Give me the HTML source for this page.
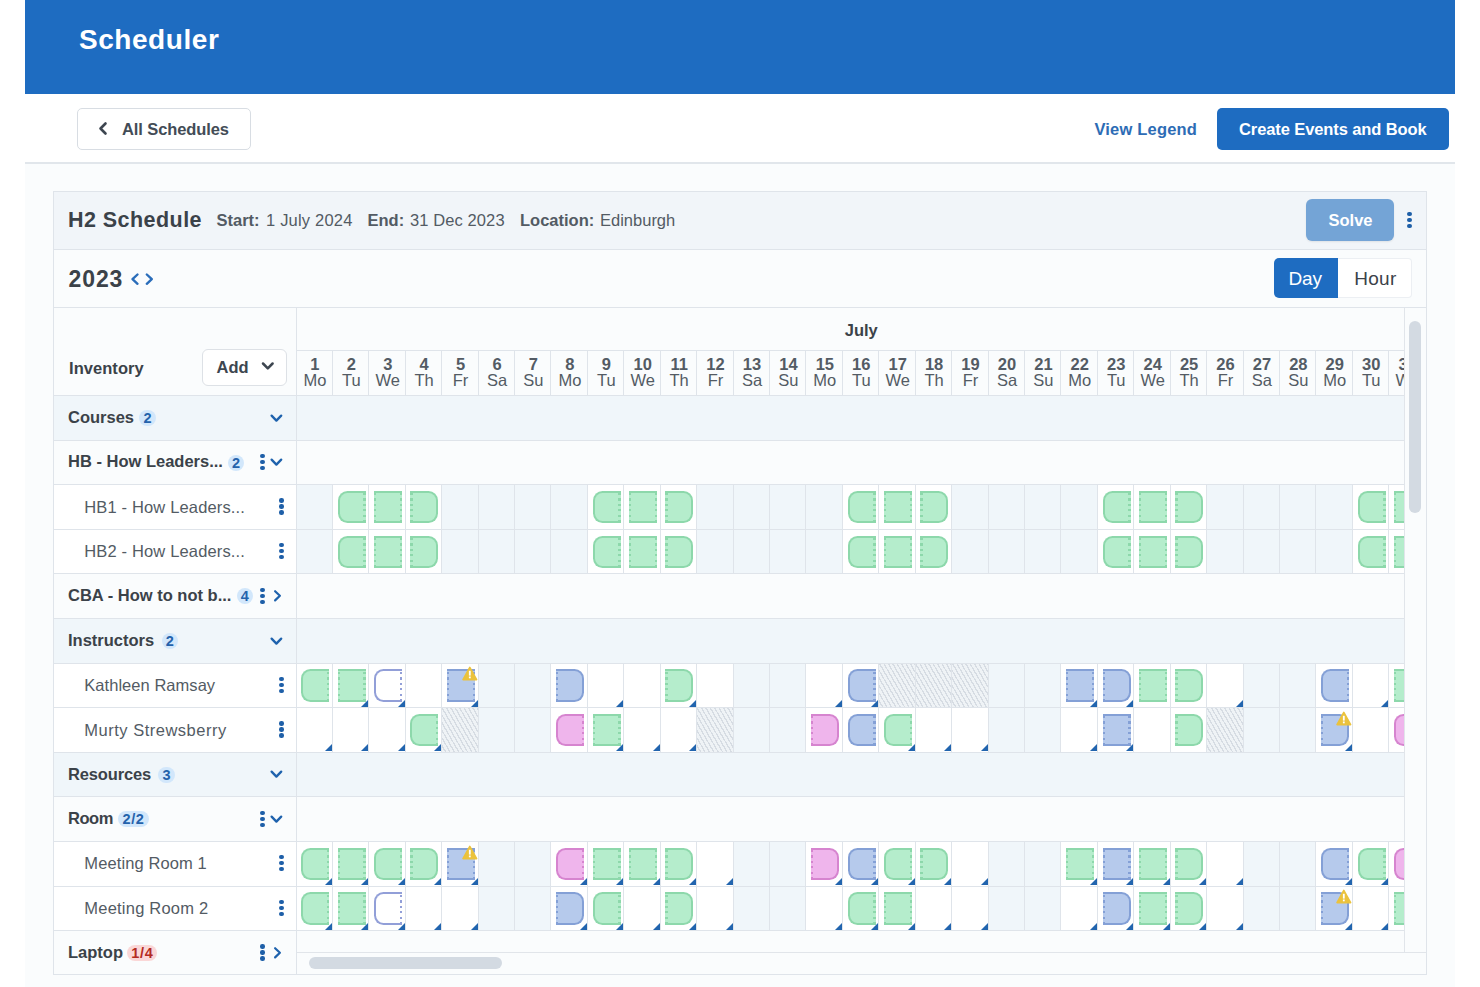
<!DOCTYPE html><html><head><meta charset="utf-8"><title>Scheduler</title><style>
*{box-sizing:border-box;margin:0;padding:0}
html,body{width:1480px;height:987px;overflow:hidden;background:#fff;font-family:"Liberation Sans",sans-serif}
.a{position:absolute}
.t{position:absolute;line-height:1;white-space:nowrap}
svg{position:absolute;overflow:visible}
.ev{position:absolute;width:28px;height:32.4px;border:2px solid var(--b);background:var(--f)}
.ev.s{border-right:0;border-radius:9.5px 0 0 9.5px}
.ev.m{border-left:0;border-right:0}
.ev.e{border-left:0;border-radius:0 9.5px 9.5px 0}
.ev.s:after,.ev.m:after{content:"";position:absolute;right:0;top:0.4px;bottom:0;width:2.2px;background:repeating-linear-gradient(to bottom,var(--b) 0 2.2px,transparent 2.2px 5.4px)}
.ev.e:before,.ev.m:before{content:"";position:absolute;left:0;top:0.4px;bottom:0;width:2.2px;background:repeating-linear-gradient(to bottom,var(--b) 0 2.2px,transparent 2.2px 5.4px)}
.g{--b:#8dd8ab;--f:#b5edcc}
.bl{--b:#84a0d6;--f:#b6caec}
.pk{--b:#d684cf;--f:#efb5ec}
.ol{--b:#929fd8;--f:#ffffff}
.cr{position:absolute;width:0;height:0;border-style:solid;border-width:0 0 7.5px 7.5px;border-color:transparent transparent #2164ae transparent}
.hat{background:repeating-linear-gradient(60deg,#eff3f6 0 2.5px,#d6dce3 2.5px 3.8px)}
</style></head><body>
<div class="a" style="left:25.00px;top:0.00px;width:1430.00px;height:94.00px;background:#1e6cc1"></div>
<div class="t" style="left:79.00px;top:25.80px;font-size:28px;font-weight:700;color:#fff;letter-spacing:0.55px">Scheduler</div>
<div class="a" style="left:25.00px;top:94.00px;width:1430.00px;height:68.50px;background:#fff"></div>
<div class="a" style="left:25.00px;top:162.00px;width:1430.00px;height:1.50px;background:#e1e6eb"></div>
<div class="a" style="left:25.00px;top:163.50px;width:1430.00px;height:823.50px;background:#fafcfd"></div>
<div class="a" style="left:77.00px;top:108.00px;width:174.00px;height:42.00px;background:#fff;border:1px solid #d8dde3;border-radius:5px"></div>
<svg style="left:98px;top:122px" width="10" height="13"><path d="M7.5 1.5 L2.5 6.5 L7.5 11.5" fill="none" stroke="#3d4650" stroke-width="2.6" stroke-linecap="round" stroke-linejoin="round"/></svg>
<div class="t" style="left:122.00px;top:121.03px;font-size:16.5px;font-weight:700;color:#434c56;letter-spacing:-0.1px">All Schedules</div>
<div class="t" style="left:1094.40px;top:121.03px;font-size:16.5px;font-weight:700;color:#2d6cb5;letter-spacing:0.2px">View Legend</div>
<div class="a" style="left:1217.00px;top:108.00px;width:232.00px;height:42.00px;background:#1e6cc1;border-radius:5px"></div>
<div class="t" style="left:1239.00px;top:121.03px;font-size:16.5px;font-weight:700;color:#fff;letter-spacing:-0.1px">Create Events and Book</div>
<div class="a" style="left:53.00px;top:191.00px;width:1374.00px;height:784.00px;background:#fafcfd;border:1px solid #dfe4ea"></div>
<div class="a" style="left:54.00px;top:192.00px;width:1372.00px;height:57.00px;background:#f1f5f9"></div>
<div class="a" style="left:53.00px;top:248.50px;width:1374.00px;height:1.20px;background:#dfe4ea"></div>
<div class="t" style="left:68.00px;top:209.68px;font-size:22px;font-weight:700;color:#3b4249;letter-spacing:0.45px;font-size:21.5px">H2 Schedule</div>
<div class="t" style="left:216.50px;top:212.03px;font-size:16.5px;font-weight:700;color:#535b64;">Start:</div>
<div class="t" style="left:266.00px;top:212.03px;font-size:16.5px;font-weight:400;color:#535b64;letter-spacing:0.2px">1 July 2024</div>
<div class="t" style="left:367.50px;top:212.03px;font-size:16.5px;font-weight:700;color:#535b64;">End:</div>
<div class="t" style="left:410.00px;top:212.03px;font-size:16.5px;font-weight:400;color:#535b64;letter-spacing:0.1px">31 Dec 2023</div>
<div class="t" style="left:520.00px;top:212.03px;font-size:16.5px;font-weight:700;color:#535b64;">Location:</div>
<div class="t" style="left:600.00px;top:212.03px;font-size:16.5px;font-weight:400;color:#535b64;">Edinburgh</div>
<div class="a" style="left:1306.00px;top:199.00px;width:87.50px;height:41.50px;background:#74a4d6;border-radius:6px;box-shadow:0 1px 2px rgba(0,0,0,0.08)"></div>
<div class="t" style="left:1328.50px;top:212.03px;font-size:16.5px;font-weight:700;color:#fff;">Solve</div>
<div class="a" style="left:1407.20px;top:211.80px;width:4.60px;height:4.60px;background:#1e5fa8;border-radius:50%"></div>
<div class="a" style="left:1407.20px;top:217.80px;width:4.60px;height:4.60px;background:#1e5fa8;border-radius:50%"></div>
<div class="a" style="left:1407.20px;top:223.80px;width:4.60px;height:4.60px;background:#1e5fa8;border-radius:50%"></div>
<div class="a" style="left:53.00px;top:307.00px;width:1374.00px;height:1.20px;background:#dfe4ea"></div>
<div class="t" style="left:68.50px;top:267.53px;font-size:23px;font-weight:700;color:#3b4249;letter-spacing:0.9px">2023</div>
<svg style="left:130px;top:273px" width="10" height="13"><path d="M7.5 1.5 L2.5 6.2 L7.5 10.8" fill="none" stroke="#2a6dba" stroke-width="2.4" stroke-linecap="round" stroke-linejoin="round"/></svg>
<svg style="left:145px;top:273px" width="10" height="13"><path d="M1.8 1.5 L6.8 6.2 L1.8 10.8" fill="none" stroke="#2a6dba" stroke-width="2.4" stroke-linecap="round" stroke-linejoin="round"/></svg>
<div class="a" style="left:1274.00px;top:258.40px;width:64.00px;height:40.00px;background:#1e6cc1;border-radius:5px 0 0 5px"></div>
<div class="a" style="left:1338.00px;top:258.40px;width:74.00px;height:40.00px;background:#fff;border:1px solid #eceff3;border-left:0;border-radius:0 4px 4px 0"></div>
<div class="t" style="left:1288.50px;top:269.22px;font-size:19px;font-weight:400;color:#fff;letter-spacing:-0.2px">Day</div>
<div class="t" style="left:1354.20px;top:269.22px;font-size:19px;font-weight:400;color:#3b4249;letter-spacing:0.3px">Hour</div>
<div class="t" style="left:69.00px;top:360.03px;font-size:16.5px;font-weight:700;color:#3b4249;letter-spacing:0.05px">Inventory</div>
<div class="a" style="left:202.40px;top:348.90px;width:85.00px;height:37.00px;background:#fff;border:1px solid #dde1e6;border-radius:6px"></div>
<div class="t" style="left:216.60px;top:359.33px;font-size:16.5px;font-weight:700;color:#3d4650;">Add</div>
<svg style="left:261px;top:361px" width="14" height="11"><path d="M2 2.5 L6.8 7.3 L11.6 2.5" fill="none" stroke="#3d4650" stroke-width="2.5" stroke-linecap="round" stroke-linejoin="round"/></svg>
<div class="a" style="left:54.00px;top:395.00px;width:242.00px;height:44.60px;background:#f0f6fa"></div>
<div class="a" style="left:54.00px;top:395.00px;width:242.00px;height:1.00px;background:#dfe4ea"></div>
<div class="t" style="left:68.00px;top:408.83px;font-size:16.5px;font-weight:700;color:#3b4249;letter-spacing:0px">Courses</div>
<div class="a" style="left:139.4px;top:410.0px;width:16.3px;height:16px;border-radius:8px;background:#d2e7fb;color:#2462ab;font-size:14.5px;font-weight:700;line-height:16.6px;text-align:center;letter-spacing:0px;text-indent:0px">2</div>
<svg style="left:270px;top:413.5px" width="14" height="10"><path d="M1.6 1.6 L6.4 6.6 L11.2 1.6" fill="none" stroke="#1e62ad" stroke-width="2.3" stroke-linecap="round" stroke-linejoin="round"/></svg>
<div class="a" style="left:54.00px;top:439.60px;width:242.00px;height:44.60px;background:#fafcfd"></div>
<div class="a" style="left:54.00px;top:439.60px;width:242.00px;height:1.00px;background:#dfe4ea"></div>
<div class="t" style="left:68.00px;top:453.43px;font-size:16.5px;font-weight:700;color:#3b4249;letter-spacing:0px">HB - How Leaders...</div>
<div class="a" style="left:228px;top:454.6px;width:16.3px;height:16px;border-radius:8px;background:#d2e7fb;color:#2462ab;font-size:14.5px;font-weight:700;line-height:16.6px;text-align:center;letter-spacing:0px;text-indent:0px">2</div>
<div class="a" style="left:260.30px;top:453.70px;width:4.40px;height:4.40px;background:#1e5fa8;border-radius:50%"></div>
<div class="a" style="left:260.30px;top:459.70px;width:4.40px;height:4.40px;background:#1e5fa8;border-radius:50%"></div>
<div class="a" style="left:260.30px;top:465.70px;width:4.40px;height:4.40px;background:#1e5fa8;border-radius:50%"></div>
<svg style="left:270px;top:458.1px" width="14" height="10"><path d="M1.6 1.6 L6.4 6.6 L11.2 1.6" fill="none" stroke="#1e62ad" stroke-width="2.3" stroke-linecap="round" stroke-linejoin="round"/></svg>
<div class="a" style="left:54.00px;top:484.20px;width:242.00px;height:44.60px;background:#fff"></div>
<div class="a" style="left:54.00px;top:484.20px;width:242.00px;height:1.00px;background:#dfe4ea"></div>
<div class="t" style="left:84.30px;top:498.53px;font-size:16.5px;font-weight:400;color:#535b64;letter-spacing:0.15px">HB1 - How Leaders...</div>
<div class="a" style="left:279.20px;top:498.30px;width:4.40px;height:4.40px;background:#1e5fa8;border-radius:50%"></div>
<div class="a" style="left:279.20px;top:504.30px;width:4.40px;height:4.40px;background:#1e5fa8;border-radius:50%"></div>
<div class="a" style="left:279.20px;top:510.30px;width:4.40px;height:4.40px;background:#1e5fa8;border-radius:50%"></div>
<div class="a" style="left:54.00px;top:528.80px;width:242.00px;height:44.60px;background:#fff"></div>
<div class="a" style="left:54.00px;top:528.80px;width:242.00px;height:1.00px;background:#dfe4ea"></div>
<div class="t" style="left:84.30px;top:543.13px;font-size:16.5px;font-weight:400;color:#535b64;letter-spacing:0.15px">HB2 - How Leaders...</div>
<div class="a" style="left:279.20px;top:542.90px;width:4.40px;height:4.40px;background:#1e5fa8;border-radius:50%"></div>
<div class="a" style="left:279.20px;top:548.90px;width:4.40px;height:4.40px;background:#1e5fa8;border-radius:50%"></div>
<div class="a" style="left:279.20px;top:554.90px;width:4.40px;height:4.40px;background:#1e5fa8;border-radius:50%"></div>
<div class="a" style="left:54.00px;top:573.40px;width:242.00px;height:44.60px;background:#fafcfd"></div>
<div class="a" style="left:54.00px;top:573.40px;width:242.00px;height:1.00px;background:#dfe4ea"></div>
<div class="t" style="left:68.00px;top:587.23px;font-size:16.5px;font-weight:700;color:#3b4249;letter-spacing:0px">CBA - How to not b...</div>
<div class="a" style="left:236.6px;top:588.4px;width:16.3px;height:16px;border-radius:8px;background:#d2e7fb;color:#2462ab;font-size:14.5px;font-weight:700;line-height:16.6px;text-align:center;letter-spacing:0px;text-indent:0px">4</div>
<div class="a" style="left:260.30px;top:587.50px;width:4.40px;height:4.40px;background:#1e5fa8;border-radius:50%"></div>
<div class="a" style="left:260.30px;top:593.50px;width:4.40px;height:4.40px;background:#1e5fa8;border-radius:50%"></div>
<div class="a" style="left:260.30px;top:599.50px;width:4.40px;height:4.40px;background:#1e5fa8;border-radius:50%"></div>
<svg style="left:273px;top:588.9px" width="10" height="14"><path d="M2.1 2.2 L6.9 6.8 L2.1 11.4" fill="none" stroke="#1e62ad" stroke-width="2.2" stroke-linecap="round" stroke-linejoin="round"/></svg>
<div class="a" style="left:54.00px;top:618.00px;width:242.00px;height:44.60px;background:#f0f6fa"></div>
<div class="a" style="left:54.00px;top:618.00px;width:242.00px;height:1.00px;background:#dfe4ea"></div>
<div class="t" style="left:68.00px;top:631.83px;font-size:16.5px;font-weight:700;color:#3b4249;letter-spacing:0px">Instructors</div>
<div class="a" style="left:161.7px;top:633.0px;width:16.3px;height:16px;border-radius:8px;background:#d2e7fb;color:#2462ab;font-size:14.5px;font-weight:700;line-height:16.6px;text-align:center;letter-spacing:0px;text-indent:0px">2</div>
<svg style="left:270px;top:636.5px" width="14" height="10"><path d="M1.6 1.6 L6.4 6.6 L11.2 1.6" fill="none" stroke="#1e62ad" stroke-width="2.3" stroke-linecap="round" stroke-linejoin="round"/></svg>
<div class="a" style="left:54.00px;top:662.60px;width:242.00px;height:44.60px;background:#fff"></div>
<div class="a" style="left:54.00px;top:662.60px;width:242.00px;height:1.00px;background:#dfe4ea"></div>
<div class="t" style="left:84.30px;top:676.93px;font-size:16.5px;font-weight:400;color:#535b64;letter-spacing:0.04px">Kathleen Ramsay</div>
<div class="a" style="left:279.20px;top:676.70px;width:4.40px;height:4.40px;background:#1e5fa8;border-radius:50%"></div>
<div class="a" style="left:279.20px;top:682.70px;width:4.40px;height:4.40px;background:#1e5fa8;border-radius:50%"></div>
<div class="a" style="left:279.20px;top:688.70px;width:4.40px;height:4.40px;background:#1e5fa8;border-radius:50%"></div>
<div class="a" style="left:54.00px;top:707.20px;width:242.00px;height:44.60px;background:#fff"></div>
<div class="a" style="left:54.00px;top:707.20px;width:242.00px;height:1.00px;background:#dfe4ea"></div>
<div class="t" style="left:84.30px;top:721.53px;font-size:16.5px;font-weight:400;color:#535b64;letter-spacing:0.5px">Murty Strewsberry</div>
<div class="a" style="left:279.20px;top:721.30px;width:4.40px;height:4.40px;background:#1e5fa8;border-radius:50%"></div>
<div class="a" style="left:279.20px;top:727.30px;width:4.40px;height:4.40px;background:#1e5fa8;border-radius:50%"></div>
<div class="a" style="left:279.20px;top:733.30px;width:4.40px;height:4.40px;background:#1e5fa8;border-radius:50%"></div>
<div class="a" style="left:54.00px;top:751.80px;width:242.00px;height:44.60px;background:#f0f6fa"></div>
<div class="a" style="left:54.00px;top:751.80px;width:242.00px;height:1.00px;background:#dfe4ea"></div>
<div class="t" style="left:68.00px;top:765.63px;font-size:16.5px;font-weight:700;color:#3b4249;letter-spacing:-0.15px">Resources</div>
<div class="a" style="left:158.3px;top:766.8px;width:16.3px;height:16px;border-radius:8px;background:#d2e7fb;color:#2462ab;font-size:14.5px;font-weight:700;line-height:16.6px;text-align:center;letter-spacing:0px;text-indent:0px">3</div>
<svg style="left:270px;top:770.3px" width="14" height="10"><path d="M1.6 1.6 L6.4 6.6 L11.2 1.6" fill="none" stroke="#1e62ad" stroke-width="2.3" stroke-linecap="round" stroke-linejoin="round"/></svg>
<div class="a" style="left:54.00px;top:796.40px;width:242.00px;height:44.60px;background:#fafcfd"></div>
<div class="a" style="left:54.00px;top:796.40px;width:242.00px;height:1.00px;background:#dfe4ea"></div>
<div class="t" style="left:68.00px;top:810.23px;font-size:16.5px;font-weight:700;color:#3b4249;letter-spacing:-0.45px">Room</div>
<div class="a" style="left:118px;top:811.4000000000001px;width:30.5px;height:16px;border-radius:8px;background:#d2e7fb;color:#2462ab;font-size:14.5px;font-weight:700;line-height:16.6px;text-align:center;letter-spacing:0.6px;text-indent:0.6px">2/2</div>
<div class="a" style="left:260.30px;top:810.50px;width:4.40px;height:4.40px;background:#1e5fa8;border-radius:50%"></div>
<div class="a" style="left:260.30px;top:816.50px;width:4.40px;height:4.40px;background:#1e5fa8;border-radius:50%"></div>
<div class="a" style="left:260.30px;top:822.50px;width:4.40px;height:4.40px;background:#1e5fa8;border-radius:50%"></div>
<svg style="left:270px;top:814.9000000000001px" width="14" height="10"><path d="M1.6 1.6 L6.4 6.6 L11.2 1.6" fill="none" stroke="#1e62ad" stroke-width="2.3" stroke-linecap="round" stroke-linejoin="round"/></svg>
<div class="a" style="left:54.00px;top:841.00px;width:242.00px;height:44.60px;background:#fff"></div>
<div class="a" style="left:54.00px;top:841.00px;width:242.00px;height:1.00px;background:#dfe4ea"></div>
<div class="t" style="left:84.30px;top:855.33px;font-size:16.5px;font-weight:400;color:#535b64;letter-spacing:0.11px">Meeting Room 1</div>
<div class="a" style="left:279.20px;top:855.10px;width:4.40px;height:4.40px;background:#1e5fa8;border-radius:50%"></div>
<div class="a" style="left:279.20px;top:861.10px;width:4.40px;height:4.40px;background:#1e5fa8;border-radius:50%"></div>
<div class="a" style="left:279.20px;top:867.10px;width:4.40px;height:4.40px;background:#1e5fa8;border-radius:50%"></div>
<div class="a" style="left:54.00px;top:885.60px;width:242.00px;height:44.60px;background:#fff"></div>
<div class="a" style="left:54.00px;top:885.60px;width:242.00px;height:1.00px;background:#dfe4ea"></div>
<div class="t" style="left:84.30px;top:899.93px;font-size:16.5px;font-weight:400;color:#535b64;letter-spacing:0.22px">Meeting Room 2</div>
<div class="a" style="left:279.20px;top:899.70px;width:4.40px;height:4.40px;background:#1e5fa8;border-radius:50%"></div>
<div class="a" style="left:279.20px;top:905.70px;width:4.40px;height:4.40px;background:#1e5fa8;border-radius:50%"></div>
<div class="a" style="left:279.20px;top:911.70px;width:4.40px;height:4.40px;background:#1e5fa8;border-radius:50%"></div>
<div class="a" style="left:54.00px;top:930.20px;width:242.00px;height:44.60px;background:#fafcfd"></div>
<div class="a" style="left:54.00px;top:930.20px;width:242.00px;height:1.00px;background:#dfe4ea"></div>
<div class="t" style="left:68.00px;top:944.03px;font-size:16.5px;font-weight:700;color:#3b4249;letter-spacing:0px">Laptop</div>
<div class="a" style="left:126.8px;top:945.2px;width:30.5px;height:16px;border-radius:8px;background:#fad7d7;color:#b42a22;font-size:14.5px;font-weight:700;line-height:16.6px;text-align:center;letter-spacing:0.6px;text-indent:0.6px">1/4</div>
<div class="a" style="left:260.30px;top:944.30px;width:4.40px;height:4.40px;background:#1e5fa8;border-radius:50%"></div>
<div class="a" style="left:260.30px;top:950.30px;width:4.40px;height:4.40px;background:#1e5fa8;border-radius:50%"></div>
<div class="a" style="left:260.30px;top:956.30px;width:4.40px;height:4.40px;background:#1e5fa8;border-radius:50%"></div>
<svg style="left:273px;top:945.7px" width="10" height="14"><path d="M2.1 2.2 L6.9 6.8 L2.1 11.4" fill="none" stroke="#1e62ad" stroke-width="2.2" stroke-linecap="round" stroke-linejoin="round"/></svg>
<div class="a" style="left:295.50px;top:307.50px;width:1.20px;height:667.50px;background:#dfe4ea"></div>
<div class="a" style="left:296.7px;top:307.5px;width:1107.3px;height:644.5px;overflow:hidden">
<div class="a" style="left:-0.70px;top:0.00px;width:1129.17px;height:43.50px;background:#fafcfd"></div>
<div class="t" style="left:0px;top:14.25px;width:1129.17px;text-align:center;font-size:16.5px;font-weight:700;color:#3b4249;line-height:1;padding-left:0">July</div>
<div class="a" style="left:-0.70px;top:42.70px;width:1129.17px;height:1.00px;background:#dfe4ea"></div>
<div class="t" style="left:0.00px;top:48.28px;width:36.42px;text-align:center;font-size:16.5px;font-weight:700;color:#535b64">1</div>
<div class="t" style="left:0.00px;top:64.53px;width:36.42px;text-align:center;font-size:16.5px;font-weight:400;color:#535b64">Mo</div>
<div class="a" style="left:35.23px;top:43.10px;width:1.00px;height:44.40px;background:#dfe4ea"></div>
<div class="t" style="left:36.43px;top:48.28px;width:36.42px;text-align:center;font-size:16.5px;font-weight:700;color:#535b64">2</div>
<div class="t" style="left:36.43px;top:64.53px;width:36.42px;text-align:center;font-size:16.5px;font-weight:400;color:#535b64">Tu</div>
<div class="a" style="left:71.65px;top:43.10px;width:1.00px;height:44.40px;background:#dfe4ea"></div>
<div class="t" style="left:72.85px;top:48.28px;width:36.42px;text-align:center;font-size:16.5px;font-weight:700;color:#535b64">3</div>
<div class="t" style="left:72.85px;top:64.53px;width:36.42px;text-align:center;font-size:16.5px;font-weight:400;color:#535b64">We</div>
<div class="a" style="left:108.07px;top:43.10px;width:1.00px;height:44.40px;background:#dfe4ea"></div>
<div class="t" style="left:109.27px;top:48.28px;width:36.42px;text-align:center;font-size:16.5px;font-weight:700;color:#535b64">4</div>
<div class="t" style="left:109.27px;top:64.53px;width:36.42px;text-align:center;font-size:16.5px;font-weight:400;color:#535b64">Th</div>
<div class="a" style="left:144.50px;top:43.10px;width:1.00px;height:44.40px;background:#dfe4ea"></div>
<div class="t" style="left:145.70px;top:48.28px;width:36.42px;text-align:center;font-size:16.5px;font-weight:700;color:#535b64">5</div>
<div class="t" style="left:145.70px;top:64.53px;width:36.42px;text-align:center;font-size:16.5px;font-weight:400;color:#535b64">Fr</div>
<div class="a" style="left:180.93px;top:43.10px;width:1.00px;height:44.40px;background:#dfe4ea"></div>
<div class="t" style="left:182.12px;top:48.28px;width:36.42px;text-align:center;font-size:16.5px;font-weight:700;color:#535b64">6</div>
<div class="t" style="left:182.12px;top:64.53px;width:36.42px;text-align:center;font-size:16.5px;font-weight:400;color:#535b64">Sa</div>
<div class="a" style="left:217.35px;top:43.10px;width:1.00px;height:44.40px;background:#dfe4ea"></div>
<div class="t" style="left:218.55px;top:48.28px;width:36.42px;text-align:center;font-size:16.5px;font-weight:700;color:#535b64">7</div>
<div class="t" style="left:218.55px;top:64.53px;width:36.42px;text-align:center;font-size:16.5px;font-weight:400;color:#535b64">Su</div>
<div class="a" style="left:253.77px;top:43.10px;width:1.00px;height:44.40px;background:#dfe4ea"></div>
<div class="t" style="left:254.97px;top:48.28px;width:36.42px;text-align:center;font-size:16.5px;font-weight:700;color:#535b64">8</div>
<div class="t" style="left:254.97px;top:64.53px;width:36.42px;text-align:center;font-size:16.5px;font-weight:400;color:#535b64">Mo</div>
<div class="a" style="left:290.20px;top:43.10px;width:1.00px;height:44.40px;background:#dfe4ea"></div>
<div class="t" style="left:291.40px;top:48.28px;width:36.42px;text-align:center;font-size:16.5px;font-weight:700;color:#535b64">9</div>
<div class="t" style="left:291.40px;top:64.53px;width:36.42px;text-align:center;font-size:16.5px;font-weight:400;color:#535b64">Tu</div>
<div class="a" style="left:326.63px;top:43.10px;width:1.00px;height:44.40px;background:#dfe4ea"></div>
<div class="t" style="left:327.83px;top:48.28px;width:36.42px;text-align:center;font-size:16.5px;font-weight:700;color:#535b64">10</div>
<div class="t" style="left:327.83px;top:64.53px;width:36.42px;text-align:center;font-size:16.5px;font-weight:400;color:#535b64">We</div>
<div class="a" style="left:363.05px;top:43.10px;width:1.00px;height:44.40px;background:#dfe4ea"></div>
<div class="t" style="left:364.25px;top:48.28px;width:36.42px;text-align:center;font-size:16.5px;font-weight:700;color:#535b64">11</div>
<div class="t" style="left:364.25px;top:64.53px;width:36.42px;text-align:center;font-size:16.5px;font-weight:400;color:#535b64">Th</div>
<div class="a" style="left:399.47px;top:43.10px;width:1.00px;height:44.40px;background:#dfe4ea"></div>
<div class="t" style="left:400.67px;top:48.28px;width:36.42px;text-align:center;font-size:16.5px;font-weight:700;color:#535b64">12</div>
<div class="t" style="left:400.67px;top:64.53px;width:36.42px;text-align:center;font-size:16.5px;font-weight:400;color:#535b64">Fr</div>
<div class="a" style="left:435.90px;top:43.10px;width:1.00px;height:44.40px;background:#dfe4ea"></div>
<div class="t" style="left:437.10px;top:48.28px;width:36.42px;text-align:center;font-size:16.5px;font-weight:700;color:#535b64">13</div>
<div class="t" style="left:437.10px;top:64.53px;width:36.42px;text-align:center;font-size:16.5px;font-weight:400;color:#535b64">Sa</div>
<div class="a" style="left:472.32px;top:43.10px;width:1.00px;height:44.40px;background:#dfe4ea"></div>
<div class="t" style="left:473.52px;top:48.28px;width:36.42px;text-align:center;font-size:16.5px;font-weight:700;color:#535b64">14</div>
<div class="t" style="left:473.52px;top:64.53px;width:36.42px;text-align:center;font-size:16.5px;font-weight:400;color:#535b64">Su</div>
<div class="a" style="left:508.75px;top:43.10px;width:1.00px;height:44.40px;background:#dfe4ea"></div>
<div class="t" style="left:509.95px;top:48.28px;width:36.42px;text-align:center;font-size:16.5px;font-weight:700;color:#535b64">15</div>
<div class="t" style="left:509.95px;top:64.53px;width:36.42px;text-align:center;font-size:16.5px;font-weight:400;color:#535b64">Mo</div>
<div class="a" style="left:545.17px;top:43.10px;width:1.00px;height:44.40px;background:#dfe4ea"></div>
<div class="t" style="left:546.38px;top:48.28px;width:36.42px;text-align:center;font-size:16.5px;font-weight:700;color:#535b64">16</div>
<div class="t" style="left:546.38px;top:64.53px;width:36.42px;text-align:center;font-size:16.5px;font-weight:400;color:#535b64">Tu</div>
<div class="a" style="left:581.60px;top:43.10px;width:1.00px;height:44.40px;background:#dfe4ea"></div>
<div class="t" style="left:582.80px;top:48.28px;width:36.42px;text-align:center;font-size:16.5px;font-weight:700;color:#535b64">17</div>
<div class="t" style="left:582.80px;top:64.53px;width:36.42px;text-align:center;font-size:16.5px;font-weight:400;color:#535b64">We</div>
<div class="a" style="left:618.02px;top:43.10px;width:1.00px;height:44.40px;background:#dfe4ea"></div>
<div class="t" style="left:619.22px;top:48.28px;width:36.42px;text-align:center;font-size:16.5px;font-weight:700;color:#535b64">18</div>
<div class="t" style="left:619.22px;top:64.53px;width:36.42px;text-align:center;font-size:16.5px;font-weight:400;color:#535b64">Th</div>
<div class="a" style="left:654.45px;top:43.10px;width:1.00px;height:44.40px;background:#dfe4ea"></div>
<div class="t" style="left:655.65px;top:48.28px;width:36.42px;text-align:center;font-size:16.5px;font-weight:700;color:#535b64">19</div>
<div class="t" style="left:655.65px;top:64.53px;width:36.42px;text-align:center;font-size:16.5px;font-weight:400;color:#535b64">Fr</div>
<div class="a" style="left:690.88px;top:43.10px;width:1.00px;height:44.40px;background:#dfe4ea"></div>
<div class="t" style="left:692.08px;top:48.28px;width:36.42px;text-align:center;font-size:16.5px;font-weight:700;color:#535b64">20</div>
<div class="t" style="left:692.08px;top:64.53px;width:36.42px;text-align:center;font-size:16.5px;font-weight:400;color:#535b64">Sa</div>
<div class="a" style="left:727.30px;top:43.10px;width:1.00px;height:44.40px;background:#dfe4ea"></div>
<div class="t" style="left:728.50px;top:48.28px;width:36.42px;text-align:center;font-size:16.5px;font-weight:700;color:#535b64">21</div>
<div class="t" style="left:728.50px;top:64.53px;width:36.42px;text-align:center;font-size:16.5px;font-weight:400;color:#535b64">Su</div>
<div class="a" style="left:763.72px;top:43.10px;width:1.00px;height:44.40px;background:#dfe4ea"></div>
<div class="t" style="left:764.92px;top:48.28px;width:36.42px;text-align:center;font-size:16.5px;font-weight:700;color:#535b64">22</div>
<div class="t" style="left:764.92px;top:64.53px;width:36.42px;text-align:center;font-size:16.5px;font-weight:400;color:#535b64">Mo</div>
<div class="a" style="left:800.15px;top:43.10px;width:1.00px;height:44.40px;background:#dfe4ea"></div>
<div class="t" style="left:801.35px;top:48.28px;width:36.42px;text-align:center;font-size:16.5px;font-weight:700;color:#535b64">23</div>
<div class="t" style="left:801.35px;top:64.53px;width:36.42px;text-align:center;font-size:16.5px;font-weight:400;color:#535b64">Tu</div>
<div class="a" style="left:836.58px;top:43.10px;width:1.00px;height:44.40px;background:#dfe4ea"></div>
<div class="t" style="left:837.78px;top:48.28px;width:36.42px;text-align:center;font-size:16.5px;font-weight:700;color:#535b64">24</div>
<div class="t" style="left:837.78px;top:64.53px;width:36.42px;text-align:center;font-size:16.5px;font-weight:400;color:#535b64">We</div>
<div class="a" style="left:873.00px;top:43.10px;width:1.00px;height:44.40px;background:#dfe4ea"></div>
<div class="t" style="left:874.20px;top:48.28px;width:36.42px;text-align:center;font-size:16.5px;font-weight:700;color:#535b64">25</div>
<div class="t" style="left:874.20px;top:64.53px;width:36.42px;text-align:center;font-size:16.5px;font-weight:400;color:#535b64">Th</div>
<div class="a" style="left:909.42px;top:43.10px;width:1.00px;height:44.40px;background:#dfe4ea"></div>
<div class="t" style="left:910.62px;top:48.28px;width:36.42px;text-align:center;font-size:16.5px;font-weight:700;color:#535b64">26</div>
<div class="t" style="left:910.62px;top:64.53px;width:36.42px;text-align:center;font-size:16.5px;font-weight:400;color:#535b64">Fr</div>
<div class="a" style="left:945.85px;top:43.10px;width:1.00px;height:44.40px;background:#dfe4ea"></div>
<div class="t" style="left:947.05px;top:48.28px;width:36.42px;text-align:center;font-size:16.5px;font-weight:700;color:#535b64">27</div>
<div class="t" style="left:947.05px;top:64.53px;width:36.42px;text-align:center;font-size:16.5px;font-weight:400;color:#535b64">Sa</div>
<div class="a" style="left:982.27px;top:43.10px;width:1.00px;height:44.40px;background:#dfe4ea"></div>
<div class="t" style="left:983.47px;top:48.28px;width:36.42px;text-align:center;font-size:16.5px;font-weight:700;color:#535b64">28</div>
<div class="t" style="left:983.47px;top:64.53px;width:36.42px;text-align:center;font-size:16.5px;font-weight:400;color:#535b64">Su</div>
<div class="a" style="left:1018.70px;top:43.10px;width:1.00px;height:44.40px;background:#dfe4ea"></div>
<div class="t" style="left:1019.90px;top:48.28px;width:36.42px;text-align:center;font-size:16.5px;font-weight:700;color:#535b64">29</div>
<div class="t" style="left:1019.90px;top:64.53px;width:36.42px;text-align:center;font-size:16.5px;font-weight:400;color:#535b64">Mo</div>
<div class="a" style="left:1055.12px;top:43.10px;width:1.00px;height:44.40px;background:#dfe4ea"></div>
<div class="t" style="left:1056.32px;top:48.28px;width:36.42px;text-align:center;font-size:16.5px;font-weight:700;color:#535b64">30</div>
<div class="t" style="left:1056.32px;top:64.53px;width:36.42px;text-align:center;font-size:16.5px;font-weight:400;color:#535b64">Tu</div>
<div class="a" style="left:1091.55px;top:43.10px;width:1.00px;height:44.40px;background:#dfe4ea"></div>
<div class="t" style="left:1092.75px;top:48.28px;width:36.42px;text-align:center;font-size:16.5px;font-weight:700;color:#535b64">31</div>
<div class="t" style="left:1092.75px;top:64.53px;width:36.42px;text-align:center;font-size:16.5px;font-weight:400;color:#535b64">We</div>
<div class="a" style="left:-0.70px;top:87.50px;width:1129.17px;height:44.60px;background:#f0f6fa"></div>
<div class="a" style="left:-0.70px;top:87.50px;width:1129.17px;height:1.00px;background:#dfe4ea"></div>
<div class="a" style="left:-0.70px;top:132.10px;width:1129.17px;height:44.60px;background:#fafcfd"></div>
<div class="a" style="left:-0.70px;top:132.10px;width:1129.17px;height:1.00px;background:#dfe4ea"></div>
<div class="a" style="left:-0.70px;top:176.70px;width:36.42px;height:44.60px;background:#f0f6fa"></div>
<div class="a" style="left:35.73px;top:176.70px;width:36.42px;height:44.60px;background:#fff"></div>
<div class="a" style="left:72.15px;top:176.70px;width:36.42px;height:44.60px;background:#fff"></div>
<div class="a" style="left:108.57px;top:176.70px;width:36.42px;height:44.60px;background:#fff"></div>
<div class="a" style="left:145.00px;top:176.70px;width:36.42px;height:44.60px;background:#f0f6fa"></div>
<div class="a" style="left:181.43px;top:176.70px;width:36.42px;height:44.60px;background:#f0f6fa"></div>
<div class="a" style="left:217.85px;top:176.70px;width:36.42px;height:44.60px;background:#f0f6fa"></div>
<div class="a" style="left:254.27px;top:176.70px;width:36.42px;height:44.60px;background:#f0f6fa"></div>
<div class="a" style="left:290.70px;top:176.70px;width:36.42px;height:44.60px;background:#fff"></div>
<div class="a" style="left:327.13px;top:176.70px;width:36.42px;height:44.60px;background:#fff"></div>
<div class="a" style="left:363.55px;top:176.70px;width:36.42px;height:44.60px;background:#fff"></div>
<div class="a" style="left:399.97px;top:176.70px;width:36.42px;height:44.60px;background:#f0f6fa"></div>
<div class="a" style="left:436.40px;top:176.70px;width:36.42px;height:44.60px;background:#f0f6fa"></div>
<div class="a" style="left:472.82px;top:176.70px;width:36.42px;height:44.60px;background:#f0f6fa"></div>
<div class="a" style="left:509.25px;top:176.70px;width:36.42px;height:44.60px;background:#f0f6fa"></div>
<div class="a" style="left:545.67px;top:176.70px;width:36.42px;height:44.60px;background:#fff"></div>
<div class="a" style="left:582.10px;top:176.70px;width:36.42px;height:44.60px;background:#fff"></div>
<div class="a" style="left:618.52px;top:176.70px;width:36.42px;height:44.60px;background:#fff"></div>
<div class="a" style="left:654.95px;top:176.70px;width:36.42px;height:44.60px;background:#f0f6fa"></div>
<div class="a" style="left:691.38px;top:176.70px;width:36.42px;height:44.60px;background:#f0f6fa"></div>
<div class="a" style="left:727.80px;top:176.70px;width:36.42px;height:44.60px;background:#f0f6fa"></div>
<div class="a" style="left:764.22px;top:176.70px;width:36.42px;height:44.60px;background:#f0f6fa"></div>
<div class="a" style="left:800.65px;top:176.70px;width:36.42px;height:44.60px;background:#fff"></div>
<div class="a" style="left:837.08px;top:176.70px;width:36.42px;height:44.60px;background:#fff"></div>
<div class="a" style="left:873.50px;top:176.70px;width:36.42px;height:44.60px;background:#fff"></div>
<div class="a" style="left:909.92px;top:176.70px;width:36.42px;height:44.60px;background:#f0f6fa"></div>
<div class="a" style="left:946.35px;top:176.70px;width:36.42px;height:44.60px;background:#f0f6fa"></div>
<div class="a" style="left:982.77px;top:176.70px;width:36.42px;height:44.60px;background:#f0f6fa"></div>
<div class="a" style="left:1019.20px;top:176.70px;width:36.42px;height:44.60px;background:#f0f6fa"></div>
<div class="a" style="left:1055.62px;top:176.70px;width:36.42px;height:44.60px;background:#fff"></div>
<div class="a" style="left:1092.05px;top:176.70px;width:36.42px;height:44.60px;background:#fff"></div>
<div class="a" style="left:35.23px;top:176.70px;width:1.00px;height:44.60px;background:#dfe4ea"></div>
<div class="a" style="left:71.65px;top:176.70px;width:1.00px;height:44.60px;background:#dfe4ea"></div>
<div class="a" style="left:108.07px;top:176.70px;width:1.00px;height:44.60px;background:#dfe4ea"></div>
<div class="a" style="left:144.50px;top:176.70px;width:1.00px;height:44.60px;background:#dfe4ea"></div>
<div class="a" style="left:180.93px;top:176.70px;width:1.00px;height:44.60px;background:#dfe4ea"></div>
<div class="a" style="left:217.35px;top:176.70px;width:1.00px;height:44.60px;background:#dfe4ea"></div>
<div class="a" style="left:253.77px;top:176.70px;width:1.00px;height:44.60px;background:#dfe4ea"></div>
<div class="a" style="left:290.20px;top:176.70px;width:1.00px;height:44.60px;background:#dfe4ea"></div>
<div class="a" style="left:326.63px;top:176.70px;width:1.00px;height:44.60px;background:#dfe4ea"></div>
<div class="a" style="left:363.05px;top:176.70px;width:1.00px;height:44.60px;background:#dfe4ea"></div>
<div class="a" style="left:399.47px;top:176.70px;width:1.00px;height:44.60px;background:#dfe4ea"></div>
<div class="a" style="left:435.90px;top:176.70px;width:1.00px;height:44.60px;background:#dfe4ea"></div>
<div class="a" style="left:472.32px;top:176.70px;width:1.00px;height:44.60px;background:#dfe4ea"></div>
<div class="a" style="left:508.75px;top:176.70px;width:1.00px;height:44.60px;background:#dfe4ea"></div>
<div class="a" style="left:545.17px;top:176.70px;width:1.00px;height:44.60px;background:#dfe4ea"></div>
<div class="a" style="left:581.60px;top:176.70px;width:1.00px;height:44.60px;background:#dfe4ea"></div>
<div class="a" style="left:618.02px;top:176.70px;width:1.00px;height:44.60px;background:#dfe4ea"></div>
<div class="a" style="left:654.45px;top:176.70px;width:1.00px;height:44.60px;background:#dfe4ea"></div>
<div class="a" style="left:690.88px;top:176.70px;width:1.00px;height:44.60px;background:#dfe4ea"></div>
<div class="a" style="left:727.30px;top:176.70px;width:1.00px;height:44.60px;background:#dfe4ea"></div>
<div class="a" style="left:763.72px;top:176.70px;width:1.00px;height:44.60px;background:#dfe4ea"></div>
<div class="a" style="left:800.15px;top:176.70px;width:1.00px;height:44.60px;background:#dfe4ea"></div>
<div class="a" style="left:836.58px;top:176.70px;width:1.00px;height:44.60px;background:#dfe4ea"></div>
<div class="a" style="left:873.00px;top:176.70px;width:1.00px;height:44.60px;background:#dfe4ea"></div>
<div class="a" style="left:909.42px;top:176.70px;width:1.00px;height:44.60px;background:#dfe4ea"></div>
<div class="a" style="left:945.85px;top:176.70px;width:1.00px;height:44.60px;background:#dfe4ea"></div>
<div class="a" style="left:982.27px;top:176.70px;width:1.00px;height:44.60px;background:#dfe4ea"></div>
<div class="a" style="left:1018.70px;top:176.70px;width:1.00px;height:44.60px;background:#dfe4ea"></div>
<div class="a" style="left:1055.12px;top:176.70px;width:1.00px;height:44.60px;background:#dfe4ea"></div>
<div class="a" style="left:1091.55px;top:176.70px;width:1.00px;height:44.60px;background:#dfe4ea"></div>
<div class="ev g s" style="left:40.93px;top:183.40px"></div>
<div class="ev g m" style="left:77.35px;top:183.40px"></div>
<div class="ev g e" style="left:113.77px;top:183.40px"></div>
<div class="ev g s" style="left:295.90px;top:183.40px"></div>
<div class="ev g m" style="left:332.33px;top:183.40px"></div>
<div class="ev g e" style="left:368.75px;top:183.40px"></div>
<div class="ev g s" style="left:550.88px;top:183.40px"></div>
<div class="ev g m" style="left:587.30px;top:183.40px"></div>
<div class="ev g e" style="left:623.72px;top:183.40px"></div>
<div class="ev g s" style="left:805.85px;top:183.40px"></div>
<div class="ev g m" style="left:842.28px;top:183.40px"></div>
<div class="ev g e" style="left:878.70px;top:183.40px"></div>
<div class="ev g s" style="left:1060.82px;top:183.40px"></div>
<div class="ev g m" style="left:1097.25px;top:183.40px"></div>
<div class="a" style="left:-0.70px;top:176.70px;width:1129.17px;height:1.00px;background:#dfe4ea"></div>
<div class="a" style="left:-0.70px;top:221.30px;width:36.42px;height:44.60px;background:#f0f6fa"></div>
<div class="a" style="left:35.73px;top:221.30px;width:36.42px;height:44.60px;background:#fff"></div>
<div class="a" style="left:72.15px;top:221.30px;width:36.42px;height:44.60px;background:#fff"></div>
<div class="a" style="left:108.57px;top:221.30px;width:36.42px;height:44.60px;background:#fff"></div>
<div class="a" style="left:145.00px;top:221.30px;width:36.42px;height:44.60px;background:#f0f6fa"></div>
<div class="a" style="left:181.43px;top:221.30px;width:36.42px;height:44.60px;background:#f0f6fa"></div>
<div class="a" style="left:217.85px;top:221.30px;width:36.42px;height:44.60px;background:#f0f6fa"></div>
<div class="a" style="left:254.27px;top:221.30px;width:36.42px;height:44.60px;background:#f0f6fa"></div>
<div class="a" style="left:290.70px;top:221.30px;width:36.42px;height:44.60px;background:#fff"></div>
<div class="a" style="left:327.13px;top:221.30px;width:36.42px;height:44.60px;background:#fff"></div>
<div class="a" style="left:363.55px;top:221.30px;width:36.42px;height:44.60px;background:#fff"></div>
<div class="a" style="left:399.97px;top:221.30px;width:36.42px;height:44.60px;background:#f0f6fa"></div>
<div class="a" style="left:436.40px;top:221.30px;width:36.42px;height:44.60px;background:#f0f6fa"></div>
<div class="a" style="left:472.82px;top:221.30px;width:36.42px;height:44.60px;background:#f0f6fa"></div>
<div class="a" style="left:509.25px;top:221.30px;width:36.42px;height:44.60px;background:#f0f6fa"></div>
<div class="a" style="left:545.67px;top:221.30px;width:36.42px;height:44.60px;background:#fff"></div>
<div class="a" style="left:582.10px;top:221.30px;width:36.42px;height:44.60px;background:#fff"></div>
<div class="a" style="left:618.52px;top:221.30px;width:36.42px;height:44.60px;background:#fff"></div>
<div class="a" style="left:654.95px;top:221.30px;width:36.42px;height:44.60px;background:#f0f6fa"></div>
<div class="a" style="left:691.38px;top:221.30px;width:36.42px;height:44.60px;background:#f0f6fa"></div>
<div class="a" style="left:727.80px;top:221.30px;width:36.42px;height:44.60px;background:#f0f6fa"></div>
<div class="a" style="left:764.22px;top:221.30px;width:36.42px;height:44.60px;background:#f0f6fa"></div>
<div class="a" style="left:800.65px;top:221.30px;width:36.42px;height:44.60px;background:#fff"></div>
<div class="a" style="left:837.08px;top:221.30px;width:36.42px;height:44.60px;background:#fff"></div>
<div class="a" style="left:873.50px;top:221.30px;width:36.42px;height:44.60px;background:#fff"></div>
<div class="a" style="left:909.92px;top:221.30px;width:36.42px;height:44.60px;background:#f0f6fa"></div>
<div class="a" style="left:946.35px;top:221.30px;width:36.42px;height:44.60px;background:#f0f6fa"></div>
<div class="a" style="left:982.77px;top:221.30px;width:36.42px;height:44.60px;background:#f0f6fa"></div>
<div class="a" style="left:1019.20px;top:221.30px;width:36.42px;height:44.60px;background:#f0f6fa"></div>
<div class="a" style="left:1055.62px;top:221.30px;width:36.42px;height:44.60px;background:#fff"></div>
<div class="a" style="left:1092.05px;top:221.30px;width:36.42px;height:44.60px;background:#fff"></div>
<div class="a" style="left:35.23px;top:221.30px;width:1.00px;height:44.60px;background:#dfe4ea"></div>
<div class="a" style="left:71.65px;top:221.30px;width:1.00px;height:44.60px;background:#dfe4ea"></div>
<div class="a" style="left:108.07px;top:221.30px;width:1.00px;height:44.60px;background:#dfe4ea"></div>
<div class="a" style="left:144.50px;top:221.30px;width:1.00px;height:44.60px;background:#dfe4ea"></div>
<div class="a" style="left:180.93px;top:221.30px;width:1.00px;height:44.60px;background:#dfe4ea"></div>
<div class="a" style="left:217.35px;top:221.30px;width:1.00px;height:44.60px;background:#dfe4ea"></div>
<div class="a" style="left:253.77px;top:221.30px;width:1.00px;height:44.60px;background:#dfe4ea"></div>
<div class="a" style="left:290.20px;top:221.30px;width:1.00px;height:44.60px;background:#dfe4ea"></div>
<div class="a" style="left:326.63px;top:221.30px;width:1.00px;height:44.60px;background:#dfe4ea"></div>
<div class="a" style="left:363.05px;top:221.30px;width:1.00px;height:44.60px;background:#dfe4ea"></div>
<div class="a" style="left:399.47px;top:221.30px;width:1.00px;height:44.60px;background:#dfe4ea"></div>
<div class="a" style="left:435.90px;top:221.30px;width:1.00px;height:44.60px;background:#dfe4ea"></div>
<div class="a" style="left:472.32px;top:221.30px;width:1.00px;height:44.60px;background:#dfe4ea"></div>
<div class="a" style="left:508.75px;top:221.30px;width:1.00px;height:44.60px;background:#dfe4ea"></div>
<div class="a" style="left:545.17px;top:221.30px;width:1.00px;height:44.60px;background:#dfe4ea"></div>
<div class="a" style="left:581.60px;top:221.30px;width:1.00px;height:44.60px;background:#dfe4ea"></div>
<div class="a" style="left:618.02px;top:221.30px;width:1.00px;height:44.60px;background:#dfe4ea"></div>
<div class="a" style="left:654.45px;top:221.30px;width:1.00px;height:44.60px;background:#dfe4ea"></div>
<div class="a" style="left:690.88px;top:221.30px;width:1.00px;height:44.60px;background:#dfe4ea"></div>
<div class="a" style="left:727.30px;top:221.30px;width:1.00px;height:44.60px;background:#dfe4ea"></div>
<div class="a" style="left:763.72px;top:221.30px;width:1.00px;height:44.60px;background:#dfe4ea"></div>
<div class="a" style="left:800.15px;top:221.30px;width:1.00px;height:44.60px;background:#dfe4ea"></div>
<div class="a" style="left:836.58px;top:221.30px;width:1.00px;height:44.60px;background:#dfe4ea"></div>
<div class="a" style="left:873.00px;top:221.30px;width:1.00px;height:44.60px;background:#dfe4ea"></div>
<div class="a" style="left:909.42px;top:221.30px;width:1.00px;height:44.60px;background:#dfe4ea"></div>
<div class="a" style="left:945.85px;top:221.30px;width:1.00px;height:44.60px;background:#dfe4ea"></div>
<div class="a" style="left:982.27px;top:221.30px;width:1.00px;height:44.60px;background:#dfe4ea"></div>
<div class="a" style="left:1018.70px;top:221.30px;width:1.00px;height:44.60px;background:#dfe4ea"></div>
<div class="a" style="left:1055.12px;top:221.30px;width:1.00px;height:44.60px;background:#dfe4ea"></div>
<div class="a" style="left:1091.55px;top:221.30px;width:1.00px;height:44.60px;background:#dfe4ea"></div>
<div class="ev g s" style="left:40.93px;top:228.00px"></div>
<div class="ev g m" style="left:77.35px;top:228.00px"></div>
<div class="ev g e" style="left:113.77px;top:228.00px"></div>
<div class="ev g s" style="left:295.90px;top:228.00px"></div>
<div class="ev g m" style="left:332.33px;top:228.00px"></div>
<div class="ev g e" style="left:368.75px;top:228.00px"></div>
<div class="ev g s" style="left:550.88px;top:228.00px"></div>
<div class="ev g m" style="left:587.30px;top:228.00px"></div>
<div class="ev g e" style="left:623.72px;top:228.00px"></div>
<div class="ev g s" style="left:805.85px;top:228.00px"></div>
<div class="ev g m" style="left:842.28px;top:228.00px"></div>
<div class="ev g e" style="left:878.70px;top:228.00px"></div>
<div class="ev g s" style="left:1060.82px;top:228.00px"></div>
<div class="ev g m" style="left:1097.25px;top:228.00px"></div>
<div class="a" style="left:-0.70px;top:221.30px;width:1129.17px;height:1.00px;background:#dfe4ea"></div>
<div class="a" style="left:-0.70px;top:265.90px;width:1129.17px;height:44.60px;background:#fafcfd"></div>
<div class="a" style="left:-0.70px;top:265.90px;width:1129.17px;height:1.00px;background:#dfe4ea"></div>
<div class="a" style="left:-0.70px;top:310.50px;width:1129.17px;height:44.60px;background:#f0f6fa"></div>
<div class="a" style="left:-0.70px;top:310.50px;width:1129.17px;height:1.00px;background:#dfe4ea"></div>
<div class="a" style="left:-0.70px;top:355.10px;width:36.42px;height:44.60px;background:#fff"></div>
<div class="a" style="left:35.73px;top:355.10px;width:36.42px;height:44.60px;background:#fff"></div>
<div class="a" style="left:72.15px;top:355.10px;width:36.42px;height:44.60px;background:#fff"></div>
<div class="a" style="left:108.57px;top:355.10px;width:36.42px;height:44.60px;background:#fff"></div>
<div class="a" style="left:145.00px;top:355.10px;width:36.42px;height:44.60px;background:#fff"></div>
<div class="a" style="left:181.43px;top:355.10px;width:36.42px;height:44.60px;background:#f0f6fa"></div>
<div class="a" style="left:217.85px;top:355.10px;width:36.42px;height:44.60px;background:#f0f6fa"></div>
<div class="a" style="left:254.27px;top:355.10px;width:36.42px;height:44.60px;background:#fff"></div>
<div class="a" style="left:290.70px;top:355.10px;width:36.42px;height:44.60px;background:#fff"></div>
<div class="a" style="left:327.13px;top:355.10px;width:36.42px;height:44.60px;background:#fff"></div>
<div class="a" style="left:363.55px;top:355.10px;width:36.42px;height:44.60px;background:#fff"></div>
<div class="a" style="left:399.97px;top:355.10px;width:36.42px;height:44.60px;background:#fff"></div>
<div class="a" style="left:436.40px;top:355.10px;width:36.42px;height:44.60px;background:#f0f6fa"></div>
<div class="a" style="left:472.82px;top:355.10px;width:36.42px;height:44.60px;background:#f0f6fa"></div>
<div class="a" style="left:509.25px;top:355.10px;width:36.42px;height:44.60px;background:#fff"></div>
<div class="a" style="left:545.67px;top:355.10px;width:36.42px;height:44.60px;background:#fff"></div>
<div class="a hat" style="left:582.10px;top:355.10px;width:36.42px;height:44.60px;"></div>
<div class="a hat" style="left:618.52px;top:355.10px;width:36.42px;height:44.60px;"></div>
<div class="a hat" style="left:654.95px;top:355.10px;width:36.42px;height:44.60px;"></div>
<div class="a" style="left:691.38px;top:355.10px;width:36.42px;height:44.60px;background:#f0f6fa"></div>
<div class="a" style="left:727.80px;top:355.10px;width:36.42px;height:44.60px;background:#f0f6fa"></div>
<div class="a" style="left:764.22px;top:355.10px;width:36.42px;height:44.60px;background:#fff"></div>
<div class="a" style="left:800.65px;top:355.10px;width:36.42px;height:44.60px;background:#fff"></div>
<div class="a" style="left:837.08px;top:355.10px;width:36.42px;height:44.60px;background:#fff"></div>
<div class="a" style="left:873.50px;top:355.10px;width:36.42px;height:44.60px;background:#fff"></div>
<div class="a" style="left:909.92px;top:355.10px;width:36.42px;height:44.60px;background:#fff"></div>
<div class="a" style="left:946.35px;top:355.10px;width:36.42px;height:44.60px;background:#f0f6fa"></div>
<div class="a" style="left:982.77px;top:355.10px;width:36.42px;height:44.60px;background:#f0f6fa"></div>
<div class="a" style="left:1019.20px;top:355.10px;width:36.42px;height:44.60px;background:#fff"></div>
<div class="a" style="left:1055.62px;top:355.10px;width:36.42px;height:44.60px;background:#fff"></div>
<div class="a" style="left:1092.05px;top:355.10px;width:36.42px;height:44.60px;background:#fff"></div>
<div class="a" style="left:35.23px;top:355.10px;width:1.00px;height:44.60px;background:#dfe4ea"></div>
<div class="a" style="left:71.65px;top:355.10px;width:1.00px;height:44.60px;background:#dfe4ea"></div>
<div class="a" style="left:108.07px;top:355.10px;width:1.00px;height:44.60px;background:#dfe4ea"></div>
<div class="a" style="left:144.50px;top:355.10px;width:1.00px;height:44.60px;background:#dfe4ea"></div>
<div class="a" style="left:180.93px;top:355.10px;width:1.00px;height:44.60px;background:#dfe4ea"></div>
<div class="a" style="left:217.35px;top:355.10px;width:1.00px;height:44.60px;background:#dfe4ea"></div>
<div class="a" style="left:253.77px;top:355.10px;width:1.00px;height:44.60px;background:#dfe4ea"></div>
<div class="a" style="left:290.20px;top:355.10px;width:1.00px;height:44.60px;background:#dfe4ea"></div>
<div class="a" style="left:326.63px;top:355.10px;width:1.00px;height:44.60px;background:#dfe4ea"></div>
<div class="a" style="left:363.05px;top:355.10px;width:1.00px;height:44.60px;background:#dfe4ea"></div>
<div class="a" style="left:399.47px;top:355.10px;width:1.00px;height:44.60px;background:#dfe4ea"></div>
<div class="a" style="left:435.90px;top:355.10px;width:1.00px;height:44.60px;background:#dfe4ea"></div>
<div class="a" style="left:472.32px;top:355.10px;width:1.00px;height:44.60px;background:#dfe4ea"></div>
<div class="a" style="left:508.75px;top:355.10px;width:1.00px;height:44.60px;background:#dfe4ea"></div>
<div class="a" style="left:545.17px;top:355.10px;width:1.00px;height:44.60px;background:#dfe4ea"></div>
<div class="a" style="left:581.60px;top:355.10px;width:1.00px;height:44.60px;background:#dfe4ea"></div>
<div class="a" style="left:618.02px;top:355.10px;width:1.00px;height:44.60px;background:#dfe4ea"></div>
<div class="a" style="left:654.45px;top:355.10px;width:1.00px;height:44.60px;background:#dfe4ea"></div>
<div class="a" style="left:690.88px;top:355.10px;width:1.00px;height:44.60px;background:#dfe4ea"></div>
<div class="a" style="left:727.30px;top:355.10px;width:1.00px;height:44.60px;background:#dfe4ea"></div>
<div class="a" style="left:763.72px;top:355.10px;width:1.00px;height:44.60px;background:#dfe4ea"></div>
<div class="a" style="left:800.15px;top:355.10px;width:1.00px;height:44.60px;background:#dfe4ea"></div>
<div class="a" style="left:836.58px;top:355.10px;width:1.00px;height:44.60px;background:#dfe4ea"></div>
<div class="a" style="left:873.00px;top:355.10px;width:1.00px;height:44.60px;background:#dfe4ea"></div>
<div class="a" style="left:909.42px;top:355.10px;width:1.00px;height:44.60px;background:#dfe4ea"></div>
<div class="a" style="left:945.85px;top:355.10px;width:1.00px;height:44.60px;background:#dfe4ea"></div>
<div class="a" style="left:982.27px;top:355.10px;width:1.00px;height:44.60px;background:#dfe4ea"></div>
<div class="a" style="left:1018.70px;top:355.10px;width:1.00px;height:44.60px;background:#dfe4ea"></div>
<div class="a" style="left:1055.12px;top:355.10px;width:1.00px;height:44.60px;background:#dfe4ea"></div>
<div class="a" style="left:1091.55px;top:355.10px;width:1.00px;height:44.60px;background:#dfe4ea"></div>
<div class="ev g s" style="left:4.50px;top:361.80px"></div>
<div class="ev g m" style="left:40.93px;top:361.80px"></div>
<div class="cr" style="left:64.65px;top:392.20px"></div>
<div class="ev ol s" style="left:77.35px;top:361.80px"></div>
<div class="cr" style="left:101.08px;top:392.20px"></div>
<div class="ev bl m" style="left:150.20px;top:361.80px"></div>
<svg style="left:165.30px;top:358.60px" width="16" height="15"><path d="M7.8 1.4 L14.6 13.6 L1 13.6 Z" fill="#ebc23c" stroke="#ebc23c" stroke-width="1.6" stroke-linejoin="round"/><rect x="6.9" y="4.8" width="1.8" height="4.8" fill="#fff"/><rect x="6.9" y="10.5" width="1.8" height="1.8" fill="#fff"/></svg>
<div class="cr" style="left:173.93px;top:392.20px"></div>
<div class="ev bl e" style="left:259.47px;top:361.80px"></div>
<div class="cr" style="left:319.62px;top:392.20px"></div>
<div class="ev g e" style="left:368.75px;top:361.80px"></div>
<div class="cr" style="left:392.47px;top:392.20px"></div>
<div class="cr" style="left:538.17px;top:392.20px"></div>
<div class="ev bl s" style="left:550.88px;top:361.80px"></div>
<div class="cr" style="left:574.60px;top:392.20px"></div>
<div class="ev bl m" style="left:769.42px;top:361.80px"></div>
<div class="cr" style="left:793.15px;top:392.20px"></div>
<div class="ev bl e" style="left:805.85px;top:361.80px"></div>
<div class="cr" style="left:829.57px;top:392.20px"></div>
<div class="ev g m" style="left:842.28px;top:361.80px"></div>
<div class="ev g e" style="left:878.70px;top:361.80px"></div>
<div class="cr" style="left:938.85px;top:392.20px"></div>
<div class="ev bl s" style="left:1024.40px;top:361.80px"></div>
<div class="cr" style="left:1084.55px;top:392.20px"></div>
<div class="ev g m" style="left:1097.25px;top:361.80px"></div>
<div class="a" style="left:-0.70px;top:355.10px;width:1129.17px;height:1.00px;background:#dfe4ea"></div>
<div class="a" style="left:-0.70px;top:399.70px;width:36.42px;height:44.60px;background:#fff"></div>
<div class="a" style="left:35.73px;top:399.70px;width:36.42px;height:44.60px;background:#fff"></div>
<div class="a" style="left:72.15px;top:399.70px;width:36.42px;height:44.60px;background:#fff"></div>
<div class="a" style="left:108.57px;top:399.70px;width:36.42px;height:44.60px;background:#fff"></div>
<div class="a hat" style="left:145.00px;top:399.70px;width:36.42px;height:44.60px;"></div>
<div class="a" style="left:181.43px;top:399.70px;width:36.42px;height:44.60px;background:#f0f6fa"></div>
<div class="a" style="left:217.85px;top:399.70px;width:36.42px;height:44.60px;background:#f0f6fa"></div>
<div class="a" style="left:254.27px;top:399.70px;width:36.42px;height:44.60px;background:#fff"></div>
<div class="a" style="left:290.70px;top:399.70px;width:36.42px;height:44.60px;background:#fff"></div>
<div class="a" style="left:327.13px;top:399.70px;width:36.42px;height:44.60px;background:#fff"></div>
<div class="a" style="left:363.55px;top:399.70px;width:36.42px;height:44.60px;background:#fff"></div>
<div class="a hat" style="left:399.97px;top:399.70px;width:36.42px;height:44.60px;"></div>
<div class="a" style="left:436.40px;top:399.70px;width:36.42px;height:44.60px;background:#f0f6fa"></div>
<div class="a" style="left:472.82px;top:399.70px;width:36.42px;height:44.60px;background:#f0f6fa"></div>
<div class="a" style="left:509.25px;top:399.70px;width:36.42px;height:44.60px;background:#fff"></div>
<div class="a" style="left:545.67px;top:399.70px;width:36.42px;height:44.60px;background:#fff"></div>
<div class="a" style="left:582.10px;top:399.70px;width:36.42px;height:44.60px;background:#fff"></div>
<div class="a" style="left:618.52px;top:399.70px;width:36.42px;height:44.60px;background:#fff"></div>
<div class="a" style="left:654.95px;top:399.70px;width:36.42px;height:44.60px;background:#fff"></div>
<div class="a" style="left:691.38px;top:399.70px;width:36.42px;height:44.60px;background:#f0f6fa"></div>
<div class="a" style="left:727.80px;top:399.70px;width:36.42px;height:44.60px;background:#f0f6fa"></div>
<div class="a" style="left:764.22px;top:399.70px;width:36.42px;height:44.60px;background:#fff"></div>
<div class="a" style="left:800.65px;top:399.70px;width:36.42px;height:44.60px;background:#fff"></div>
<div class="a" style="left:837.08px;top:399.70px;width:36.42px;height:44.60px;background:#fff"></div>
<div class="a" style="left:873.50px;top:399.70px;width:36.42px;height:44.60px;background:#fff"></div>
<div class="a hat" style="left:909.92px;top:399.70px;width:36.42px;height:44.60px;"></div>
<div class="a" style="left:946.35px;top:399.70px;width:36.42px;height:44.60px;background:#f0f6fa"></div>
<div class="a" style="left:982.77px;top:399.70px;width:36.42px;height:44.60px;background:#f0f6fa"></div>
<div class="a" style="left:1019.20px;top:399.70px;width:36.42px;height:44.60px;background:#fff"></div>
<div class="a" style="left:1055.62px;top:399.70px;width:36.42px;height:44.60px;background:#fff"></div>
<div class="a" style="left:1092.05px;top:399.70px;width:36.42px;height:44.60px;background:#fff"></div>
<div class="a" style="left:35.23px;top:399.70px;width:1.00px;height:44.60px;background:#dfe4ea"></div>
<div class="a" style="left:71.65px;top:399.70px;width:1.00px;height:44.60px;background:#dfe4ea"></div>
<div class="a" style="left:108.07px;top:399.70px;width:1.00px;height:44.60px;background:#dfe4ea"></div>
<div class="a" style="left:144.50px;top:399.70px;width:1.00px;height:44.60px;background:#dfe4ea"></div>
<div class="a" style="left:180.93px;top:399.70px;width:1.00px;height:44.60px;background:#dfe4ea"></div>
<div class="a" style="left:217.35px;top:399.70px;width:1.00px;height:44.60px;background:#dfe4ea"></div>
<div class="a" style="left:253.77px;top:399.70px;width:1.00px;height:44.60px;background:#dfe4ea"></div>
<div class="a" style="left:290.20px;top:399.70px;width:1.00px;height:44.60px;background:#dfe4ea"></div>
<div class="a" style="left:326.63px;top:399.70px;width:1.00px;height:44.60px;background:#dfe4ea"></div>
<div class="a" style="left:363.05px;top:399.70px;width:1.00px;height:44.60px;background:#dfe4ea"></div>
<div class="a" style="left:399.47px;top:399.70px;width:1.00px;height:44.60px;background:#dfe4ea"></div>
<div class="a" style="left:435.90px;top:399.70px;width:1.00px;height:44.60px;background:#dfe4ea"></div>
<div class="a" style="left:472.32px;top:399.70px;width:1.00px;height:44.60px;background:#dfe4ea"></div>
<div class="a" style="left:508.75px;top:399.70px;width:1.00px;height:44.60px;background:#dfe4ea"></div>
<div class="a" style="left:545.17px;top:399.70px;width:1.00px;height:44.60px;background:#dfe4ea"></div>
<div class="a" style="left:581.60px;top:399.70px;width:1.00px;height:44.60px;background:#dfe4ea"></div>
<div class="a" style="left:618.02px;top:399.70px;width:1.00px;height:44.60px;background:#dfe4ea"></div>
<div class="a" style="left:654.45px;top:399.70px;width:1.00px;height:44.60px;background:#dfe4ea"></div>
<div class="a" style="left:690.88px;top:399.70px;width:1.00px;height:44.60px;background:#dfe4ea"></div>
<div class="a" style="left:727.30px;top:399.70px;width:1.00px;height:44.60px;background:#dfe4ea"></div>
<div class="a" style="left:763.72px;top:399.70px;width:1.00px;height:44.60px;background:#dfe4ea"></div>
<div class="a" style="left:800.15px;top:399.70px;width:1.00px;height:44.60px;background:#dfe4ea"></div>
<div class="a" style="left:836.58px;top:399.70px;width:1.00px;height:44.60px;background:#dfe4ea"></div>
<div class="a" style="left:873.00px;top:399.70px;width:1.00px;height:44.60px;background:#dfe4ea"></div>
<div class="a" style="left:909.42px;top:399.70px;width:1.00px;height:44.60px;background:#dfe4ea"></div>
<div class="a" style="left:945.85px;top:399.70px;width:1.00px;height:44.60px;background:#dfe4ea"></div>
<div class="a" style="left:982.27px;top:399.70px;width:1.00px;height:44.60px;background:#dfe4ea"></div>
<div class="a" style="left:1018.70px;top:399.70px;width:1.00px;height:44.60px;background:#dfe4ea"></div>
<div class="a" style="left:1055.12px;top:399.70px;width:1.00px;height:44.60px;background:#dfe4ea"></div>
<div class="a" style="left:1091.55px;top:399.70px;width:1.00px;height:44.60px;background:#dfe4ea"></div>
<div class="cr" style="left:28.23px;top:436.80px"></div>
<div class="cr" style="left:64.65px;top:436.80px"></div>
<div class="cr" style="left:101.08px;top:436.80px"></div>
<div class="ev g s" style="left:113.77px;top:406.40px"></div>
<div class="cr" style="left:137.50px;top:436.80px"></div>
<div class="ev pk s" style="left:259.47px;top:406.40px"></div>
<div class="ev g m" style="left:295.90px;top:406.40px"></div>
<div class="cr" style="left:319.62px;top:436.80px"></div>
<div class="cr" style="left:356.05px;top:436.80px"></div>
<div class="cr" style="left:392.47px;top:436.80px"></div>
<div class="ev pk e" style="left:514.45px;top:406.40px"></div>
<div class="ev bl s" style="left:550.88px;top:406.40px"></div>
<div class="ev g s" style="left:587.30px;top:406.40px"></div>
<div class="cr" style="left:611.02px;top:436.80px"></div>
<div class="cr" style="left:647.45px;top:436.80px"></div>
<div class="cr" style="left:683.88px;top:436.80px"></div>
<div class="cr" style="left:793.15px;top:436.80px"></div>
<div class="ev bl m" style="left:805.85px;top:406.40px"></div>
<div class="cr" style="left:829.57px;top:436.80px"></div>
<div class="ev g e" style="left:878.70px;top:406.40px"></div>
<div class="ev bl e" style="left:1024.40px;top:406.40px"></div>
<svg style="left:1039.50px;top:403.20px" width="16" height="15"><path d="M7.8 1.4 L14.6 13.6 L1 13.6 Z" fill="#ebc23c" stroke="#ebc23c" stroke-width="1.6" stroke-linejoin="round"/><rect x="6.9" y="4.8" width="1.8" height="4.8" fill="#fff"/><rect x="6.9" y="10.5" width="1.8" height="1.8" fill="#fff"/></svg>
<div class="cr" style="left:1048.12px;top:436.80px"></div>
<div class="ev pk s" style="left:1097.25px;top:406.40px"></div>
<div class="a" style="left:-0.70px;top:399.70px;width:1129.17px;height:1.00px;background:#dfe4ea"></div>
<div class="a" style="left:-0.70px;top:444.30px;width:1129.17px;height:44.60px;background:#f0f6fa"></div>
<div class="a" style="left:-0.70px;top:444.30px;width:1129.17px;height:1.00px;background:#dfe4ea"></div>
<div class="a" style="left:-0.70px;top:488.90px;width:1129.17px;height:44.60px;background:#fafcfd"></div>
<div class="a" style="left:-0.70px;top:488.90px;width:1129.17px;height:1.00px;background:#dfe4ea"></div>
<div class="a" style="left:-0.70px;top:533.50px;width:36.42px;height:44.60px;background:#fff"></div>
<div class="a" style="left:35.73px;top:533.50px;width:36.42px;height:44.60px;background:#fff"></div>
<div class="a" style="left:72.15px;top:533.50px;width:36.42px;height:44.60px;background:#fff"></div>
<div class="a" style="left:108.57px;top:533.50px;width:36.42px;height:44.60px;background:#fff"></div>
<div class="a" style="left:145.00px;top:533.50px;width:36.42px;height:44.60px;background:#fff"></div>
<div class="a" style="left:181.43px;top:533.50px;width:36.42px;height:44.60px;background:#f0f6fa"></div>
<div class="a" style="left:217.85px;top:533.50px;width:36.42px;height:44.60px;background:#f0f6fa"></div>
<div class="a" style="left:254.27px;top:533.50px;width:36.42px;height:44.60px;background:#fff"></div>
<div class="a" style="left:290.70px;top:533.50px;width:36.42px;height:44.60px;background:#fff"></div>
<div class="a" style="left:327.13px;top:533.50px;width:36.42px;height:44.60px;background:#fff"></div>
<div class="a" style="left:363.55px;top:533.50px;width:36.42px;height:44.60px;background:#fff"></div>
<div class="a" style="left:399.97px;top:533.50px;width:36.42px;height:44.60px;background:#fff"></div>
<div class="a" style="left:436.40px;top:533.50px;width:36.42px;height:44.60px;background:#f0f6fa"></div>
<div class="a" style="left:472.82px;top:533.50px;width:36.42px;height:44.60px;background:#f0f6fa"></div>
<div class="a" style="left:509.25px;top:533.50px;width:36.42px;height:44.60px;background:#fff"></div>
<div class="a" style="left:545.67px;top:533.50px;width:36.42px;height:44.60px;background:#fff"></div>
<div class="a" style="left:582.10px;top:533.50px;width:36.42px;height:44.60px;background:#fff"></div>
<div class="a" style="left:618.52px;top:533.50px;width:36.42px;height:44.60px;background:#fff"></div>
<div class="a" style="left:654.95px;top:533.50px;width:36.42px;height:44.60px;background:#fff"></div>
<div class="a" style="left:691.38px;top:533.50px;width:36.42px;height:44.60px;background:#f0f6fa"></div>
<div class="a" style="left:727.80px;top:533.50px;width:36.42px;height:44.60px;background:#f0f6fa"></div>
<div class="a" style="left:764.22px;top:533.50px;width:36.42px;height:44.60px;background:#fff"></div>
<div class="a" style="left:800.65px;top:533.50px;width:36.42px;height:44.60px;background:#fff"></div>
<div class="a" style="left:837.08px;top:533.50px;width:36.42px;height:44.60px;background:#fff"></div>
<div class="a" style="left:873.50px;top:533.50px;width:36.42px;height:44.60px;background:#fff"></div>
<div class="a" style="left:909.92px;top:533.50px;width:36.42px;height:44.60px;background:#fff"></div>
<div class="a" style="left:946.35px;top:533.50px;width:36.42px;height:44.60px;background:#f0f6fa"></div>
<div class="a" style="left:982.77px;top:533.50px;width:36.42px;height:44.60px;background:#f0f6fa"></div>
<div class="a" style="left:1019.20px;top:533.50px;width:36.42px;height:44.60px;background:#fff"></div>
<div class="a" style="left:1055.62px;top:533.50px;width:36.42px;height:44.60px;background:#fff"></div>
<div class="a" style="left:1092.05px;top:533.50px;width:36.42px;height:44.60px;background:#fff"></div>
<div class="a" style="left:35.23px;top:533.50px;width:1.00px;height:44.60px;background:#dfe4ea"></div>
<div class="a" style="left:71.65px;top:533.50px;width:1.00px;height:44.60px;background:#dfe4ea"></div>
<div class="a" style="left:108.07px;top:533.50px;width:1.00px;height:44.60px;background:#dfe4ea"></div>
<div class="a" style="left:144.50px;top:533.50px;width:1.00px;height:44.60px;background:#dfe4ea"></div>
<div class="a" style="left:180.93px;top:533.50px;width:1.00px;height:44.60px;background:#dfe4ea"></div>
<div class="a" style="left:217.35px;top:533.50px;width:1.00px;height:44.60px;background:#dfe4ea"></div>
<div class="a" style="left:253.77px;top:533.50px;width:1.00px;height:44.60px;background:#dfe4ea"></div>
<div class="a" style="left:290.20px;top:533.50px;width:1.00px;height:44.60px;background:#dfe4ea"></div>
<div class="a" style="left:326.63px;top:533.50px;width:1.00px;height:44.60px;background:#dfe4ea"></div>
<div class="a" style="left:363.05px;top:533.50px;width:1.00px;height:44.60px;background:#dfe4ea"></div>
<div class="a" style="left:399.47px;top:533.50px;width:1.00px;height:44.60px;background:#dfe4ea"></div>
<div class="a" style="left:435.90px;top:533.50px;width:1.00px;height:44.60px;background:#dfe4ea"></div>
<div class="a" style="left:472.32px;top:533.50px;width:1.00px;height:44.60px;background:#dfe4ea"></div>
<div class="a" style="left:508.75px;top:533.50px;width:1.00px;height:44.60px;background:#dfe4ea"></div>
<div class="a" style="left:545.17px;top:533.50px;width:1.00px;height:44.60px;background:#dfe4ea"></div>
<div class="a" style="left:581.60px;top:533.50px;width:1.00px;height:44.60px;background:#dfe4ea"></div>
<div class="a" style="left:618.02px;top:533.50px;width:1.00px;height:44.60px;background:#dfe4ea"></div>
<div class="a" style="left:654.45px;top:533.50px;width:1.00px;height:44.60px;background:#dfe4ea"></div>
<div class="a" style="left:690.88px;top:533.50px;width:1.00px;height:44.60px;background:#dfe4ea"></div>
<div class="a" style="left:727.30px;top:533.50px;width:1.00px;height:44.60px;background:#dfe4ea"></div>
<div class="a" style="left:763.72px;top:533.50px;width:1.00px;height:44.60px;background:#dfe4ea"></div>
<div class="a" style="left:800.15px;top:533.50px;width:1.00px;height:44.60px;background:#dfe4ea"></div>
<div class="a" style="left:836.58px;top:533.50px;width:1.00px;height:44.60px;background:#dfe4ea"></div>
<div class="a" style="left:873.00px;top:533.50px;width:1.00px;height:44.60px;background:#dfe4ea"></div>
<div class="a" style="left:909.42px;top:533.50px;width:1.00px;height:44.60px;background:#dfe4ea"></div>
<div class="a" style="left:945.85px;top:533.50px;width:1.00px;height:44.60px;background:#dfe4ea"></div>
<div class="a" style="left:982.27px;top:533.50px;width:1.00px;height:44.60px;background:#dfe4ea"></div>
<div class="a" style="left:1018.70px;top:533.50px;width:1.00px;height:44.60px;background:#dfe4ea"></div>
<div class="a" style="left:1055.12px;top:533.50px;width:1.00px;height:44.60px;background:#dfe4ea"></div>
<div class="a" style="left:1091.55px;top:533.50px;width:1.00px;height:44.60px;background:#dfe4ea"></div>
<div class="ev g s" style="left:4.50px;top:540.20px"></div>
<div class="cr" style="left:28.23px;top:570.60px"></div>
<div class="ev g m" style="left:40.93px;top:540.20px"></div>
<div class="cr" style="left:64.65px;top:570.60px"></div>
<div class="ev g s" style="left:77.35px;top:540.20px"></div>
<div class="cr" style="left:101.08px;top:570.60px"></div>
<div class="ev g e" style="left:113.77px;top:540.20px"></div>
<div class="cr" style="left:137.50px;top:570.60px"></div>
<div class="ev bl m" style="left:150.20px;top:540.20px"></div>
<svg style="left:165.30px;top:537.00px" width="16" height="15"><path d="M7.8 1.4 L14.6 13.6 L1 13.6 Z" fill="#ebc23c" stroke="#ebc23c" stroke-width="1.6" stroke-linejoin="round"/><rect x="6.9" y="4.8" width="1.8" height="4.8" fill="#fff"/><rect x="6.9" y="10.5" width="1.8" height="1.8" fill="#fff"/></svg>
<div class="cr" style="left:173.93px;top:570.60px"></div>
<div class="ev pk s" style="left:259.47px;top:540.20px"></div>
<div class="cr" style="left:283.20px;top:570.60px"></div>
<div class="ev g m" style="left:295.90px;top:540.20px"></div>
<div class="cr" style="left:319.62px;top:570.60px"></div>
<div class="ev g m" style="left:332.33px;top:540.20px"></div>
<div class="cr" style="left:356.05px;top:570.60px"></div>
<div class="ev g e" style="left:368.75px;top:540.20px"></div>
<div class="cr" style="left:392.47px;top:570.60px"></div>
<div class="cr" style="left:428.90px;top:570.60px"></div>
<div class="ev pk e" style="left:514.45px;top:540.20px"></div>
<div class="cr" style="left:538.17px;top:570.60px"></div>
<div class="ev bl s" style="left:550.88px;top:540.20px"></div>
<div class="cr" style="left:574.60px;top:570.60px"></div>
<div class="ev g s" style="left:587.30px;top:540.20px"></div>
<div class="cr" style="left:611.02px;top:570.60px"></div>
<div class="ev g e" style="left:623.72px;top:540.20px"></div>
<div class="cr" style="left:647.45px;top:570.60px"></div>
<div class="cr" style="left:683.88px;top:570.60px"></div>
<div class="ev g m" style="left:769.42px;top:540.20px"></div>
<div class="cr" style="left:793.15px;top:570.60px"></div>
<div class="ev bl m" style="left:805.85px;top:540.20px"></div>
<div class="cr" style="left:829.57px;top:570.60px"></div>
<div class="ev g m" style="left:842.28px;top:540.20px"></div>
<div class="cr" style="left:866.00px;top:570.60px"></div>
<div class="ev g e" style="left:878.70px;top:540.20px"></div>
<div class="cr" style="left:902.42px;top:570.60px"></div>
<div class="cr" style="left:938.85px;top:570.60px"></div>
<div class="ev bl s" style="left:1024.40px;top:540.20px"></div>
<div class="cr" style="left:1048.12px;top:570.60px"></div>
<div class="ev g s" style="left:1060.82px;top:540.20px"></div>
<div class="cr" style="left:1084.55px;top:570.60px"></div>
<div class="ev pk s" style="left:1097.25px;top:540.20px"></div>
<div class="a" style="left:-0.70px;top:533.50px;width:1129.17px;height:1.00px;background:#dfe4ea"></div>
<div class="a" style="left:-0.70px;top:578.10px;width:36.42px;height:44.60px;background:#fff"></div>
<div class="a" style="left:35.73px;top:578.10px;width:36.42px;height:44.60px;background:#fff"></div>
<div class="a" style="left:72.15px;top:578.10px;width:36.42px;height:44.60px;background:#fff"></div>
<div class="a" style="left:108.57px;top:578.10px;width:36.42px;height:44.60px;background:#fff"></div>
<div class="a" style="left:145.00px;top:578.10px;width:36.42px;height:44.60px;background:#fff"></div>
<div class="a" style="left:181.43px;top:578.10px;width:36.42px;height:44.60px;background:#f0f6fa"></div>
<div class="a" style="left:217.85px;top:578.10px;width:36.42px;height:44.60px;background:#f0f6fa"></div>
<div class="a" style="left:254.27px;top:578.10px;width:36.42px;height:44.60px;background:#fff"></div>
<div class="a" style="left:290.70px;top:578.10px;width:36.42px;height:44.60px;background:#fff"></div>
<div class="a" style="left:327.13px;top:578.10px;width:36.42px;height:44.60px;background:#fff"></div>
<div class="a" style="left:363.55px;top:578.10px;width:36.42px;height:44.60px;background:#fff"></div>
<div class="a" style="left:399.97px;top:578.10px;width:36.42px;height:44.60px;background:#fff"></div>
<div class="a" style="left:436.40px;top:578.10px;width:36.42px;height:44.60px;background:#f0f6fa"></div>
<div class="a" style="left:472.82px;top:578.10px;width:36.42px;height:44.60px;background:#f0f6fa"></div>
<div class="a" style="left:509.25px;top:578.10px;width:36.42px;height:44.60px;background:#fff"></div>
<div class="a" style="left:545.67px;top:578.10px;width:36.42px;height:44.60px;background:#fff"></div>
<div class="a" style="left:582.10px;top:578.10px;width:36.42px;height:44.60px;background:#fff"></div>
<div class="a" style="left:618.52px;top:578.10px;width:36.42px;height:44.60px;background:#fff"></div>
<div class="a" style="left:654.95px;top:578.10px;width:36.42px;height:44.60px;background:#fff"></div>
<div class="a" style="left:691.38px;top:578.10px;width:36.42px;height:44.60px;background:#f0f6fa"></div>
<div class="a" style="left:727.80px;top:578.10px;width:36.42px;height:44.60px;background:#f0f6fa"></div>
<div class="a" style="left:764.22px;top:578.10px;width:36.42px;height:44.60px;background:#fff"></div>
<div class="a" style="left:800.65px;top:578.10px;width:36.42px;height:44.60px;background:#fff"></div>
<div class="a" style="left:837.08px;top:578.10px;width:36.42px;height:44.60px;background:#fff"></div>
<div class="a" style="left:873.50px;top:578.10px;width:36.42px;height:44.60px;background:#fff"></div>
<div class="a" style="left:909.92px;top:578.10px;width:36.42px;height:44.60px;background:#fff"></div>
<div class="a" style="left:946.35px;top:578.10px;width:36.42px;height:44.60px;background:#f0f6fa"></div>
<div class="a" style="left:982.77px;top:578.10px;width:36.42px;height:44.60px;background:#f0f6fa"></div>
<div class="a" style="left:1019.20px;top:578.10px;width:36.42px;height:44.60px;background:#fff"></div>
<div class="a" style="left:1055.62px;top:578.10px;width:36.42px;height:44.60px;background:#fff"></div>
<div class="a" style="left:1092.05px;top:578.10px;width:36.42px;height:44.60px;background:#fff"></div>
<div class="a" style="left:35.23px;top:578.10px;width:1.00px;height:44.60px;background:#dfe4ea"></div>
<div class="a" style="left:71.65px;top:578.10px;width:1.00px;height:44.60px;background:#dfe4ea"></div>
<div class="a" style="left:108.07px;top:578.10px;width:1.00px;height:44.60px;background:#dfe4ea"></div>
<div class="a" style="left:144.50px;top:578.10px;width:1.00px;height:44.60px;background:#dfe4ea"></div>
<div class="a" style="left:180.93px;top:578.10px;width:1.00px;height:44.60px;background:#dfe4ea"></div>
<div class="a" style="left:217.35px;top:578.10px;width:1.00px;height:44.60px;background:#dfe4ea"></div>
<div class="a" style="left:253.77px;top:578.10px;width:1.00px;height:44.60px;background:#dfe4ea"></div>
<div class="a" style="left:290.20px;top:578.10px;width:1.00px;height:44.60px;background:#dfe4ea"></div>
<div class="a" style="left:326.63px;top:578.10px;width:1.00px;height:44.60px;background:#dfe4ea"></div>
<div class="a" style="left:363.05px;top:578.10px;width:1.00px;height:44.60px;background:#dfe4ea"></div>
<div class="a" style="left:399.47px;top:578.10px;width:1.00px;height:44.60px;background:#dfe4ea"></div>
<div class="a" style="left:435.90px;top:578.10px;width:1.00px;height:44.60px;background:#dfe4ea"></div>
<div class="a" style="left:472.32px;top:578.10px;width:1.00px;height:44.60px;background:#dfe4ea"></div>
<div class="a" style="left:508.75px;top:578.10px;width:1.00px;height:44.60px;background:#dfe4ea"></div>
<div class="a" style="left:545.17px;top:578.10px;width:1.00px;height:44.60px;background:#dfe4ea"></div>
<div class="a" style="left:581.60px;top:578.10px;width:1.00px;height:44.60px;background:#dfe4ea"></div>
<div class="a" style="left:618.02px;top:578.10px;width:1.00px;height:44.60px;background:#dfe4ea"></div>
<div class="a" style="left:654.45px;top:578.10px;width:1.00px;height:44.60px;background:#dfe4ea"></div>
<div class="a" style="left:690.88px;top:578.10px;width:1.00px;height:44.60px;background:#dfe4ea"></div>
<div class="a" style="left:727.30px;top:578.10px;width:1.00px;height:44.60px;background:#dfe4ea"></div>
<div class="a" style="left:763.72px;top:578.10px;width:1.00px;height:44.60px;background:#dfe4ea"></div>
<div class="a" style="left:800.15px;top:578.10px;width:1.00px;height:44.60px;background:#dfe4ea"></div>
<div class="a" style="left:836.58px;top:578.10px;width:1.00px;height:44.60px;background:#dfe4ea"></div>
<div class="a" style="left:873.00px;top:578.10px;width:1.00px;height:44.60px;background:#dfe4ea"></div>
<div class="a" style="left:909.42px;top:578.10px;width:1.00px;height:44.60px;background:#dfe4ea"></div>
<div class="a" style="left:945.85px;top:578.10px;width:1.00px;height:44.60px;background:#dfe4ea"></div>
<div class="a" style="left:982.27px;top:578.10px;width:1.00px;height:44.60px;background:#dfe4ea"></div>
<div class="a" style="left:1018.70px;top:578.10px;width:1.00px;height:44.60px;background:#dfe4ea"></div>
<div class="a" style="left:1055.12px;top:578.10px;width:1.00px;height:44.60px;background:#dfe4ea"></div>
<div class="a" style="left:1091.55px;top:578.10px;width:1.00px;height:44.60px;background:#dfe4ea"></div>
<div class="ev g s" style="left:4.50px;top:584.80px"></div>
<div class="cr" style="left:28.23px;top:615.20px"></div>
<div class="ev g m" style="left:40.93px;top:584.80px"></div>
<div class="cr" style="left:64.65px;top:615.20px"></div>
<div class="ev ol s" style="left:77.35px;top:584.80px"></div>
<div class="cr" style="left:101.08px;top:615.20px"></div>
<div class="cr" style="left:137.50px;top:615.20px"></div>
<div class="cr" style="left:173.93px;top:615.20px"></div>
<div class="ev bl e" style="left:259.47px;top:584.80px"></div>
<div class="cr" style="left:283.20px;top:615.20px"></div>
<div class="ev g s" style="left:295.90px;top:584.80px"></div>
<div class="cr" style="left:319.62px;top:615.20px"></div>
<div class="cr" style="left:356.05px;top:615.20px"></div>
<div class="ev g e" style="left:368.75px;top:584.80px"></div>
<div class="cr" style="left:392.47px;top:615.20px"></div>
<div class="cr" style="left:428.90px;top:615.20px"></div>
<div class="cr" style="left:538.17px;top:615.20px"></div>
<div class="ev g s" style="left:550.88px;top:584.80px"></div>
<div class="cr" style="left:574.60px;top:615.20px"></div>
<div class="ev g m" style="left:587.30px;top:584.80px"></div>
<div class="cr" style="left:611.02px;top:615.20px"></div>
<div class="cr" style="left:647.45px;top:615.20px"></div>
<div class="cr" style="left:683.88px;top:615.20px"></div>
<div class="cr" style="left:793.15px;top:615.20px"></div>
<div class="ev bl e" style="left:805.85px;top:584.80px"></div>
<div class="cr" style="left:829.57px;top:615.20px"></div>
<div class="ev g m" style="left:842.28px;top:584.80px"></div>
<div class="cr" style="left:866.00px;top:615.20px"></div>
<div class="ev g e" style="left:878.70px;top:584.80px"></div>
<div class="cr" style="left:902.42px;top:615.20px"></div>
<div class="cr" style="left:938.85px;top:615.20px"></div>
<div class="ev bl e" style="left:1024.40px;top:584.80px"></div>
<svg style="left:1039.50px;top:581.60px" width="16" height="15"><path d="M7.8 1.4 L14.6 13.6 L1 13.6 Z" fill="#ebc23c" stroke="#ebc23c" stroke-width="1.6" stroke-linejoin="round"/><rect x="6.9" y="4.8" width="1.8" height="4.8" fill="#fff"/><rect x="6.9" y="10.5" width="1.8" height="1.8" fill="#fff"/></svg>
<div class="cr" style="left:1048.12px;top:615.20px"></div>
<div class="cr" style="left:1084.55px;top:615.20px"></div>
<div class="ev g m" style="left:1097.25px;top:584.80px"></div>
<div class="a" style="left:-0.70px;top:578.10px;width:1129.17px;height:1.00px;background:#dfe4ea"></div>
<div class="a" style="left:-0.70px;top:622.70px;width:1129.17px;height:44.60px;background:#fafcfd"></div>
<div class="a" style="left:-0.70px;top:622.70px;width:1129.17px;height:1.00px;background:#dfe4ea"></div>
<div class="a" style="left:-0.70px;top:667.30px;width:1129.17px;height:1.00px;background:#dfe4ea"></div>
</div>
<div class="a" style="left:1403.70px;top:307.50px;width:1.80px;height:644.50px;background:#e1e5ea"></div>
<div class="a" style="left:1409.20px;top:320.50px;width:11.80px;height:192.00px;background:#d3dae2;border-radius:6px"></div>
<div class="a" style="left:296.70px;top:951.50px;width:1130.00px;height:1.30px;background:#e1e5ea"></div>
<div class="a" style="left:309.00px;top:957.00px;width:193.00px;height:11.50px;background:#d3dae2;border-radius:6px"></div>
<div class="a" style="left:53.00px;top:191.00px;width:1374.00px;height:784.00px;border:1px solid #dfe4ea;pointer-events:none"></div>
</body></html>
